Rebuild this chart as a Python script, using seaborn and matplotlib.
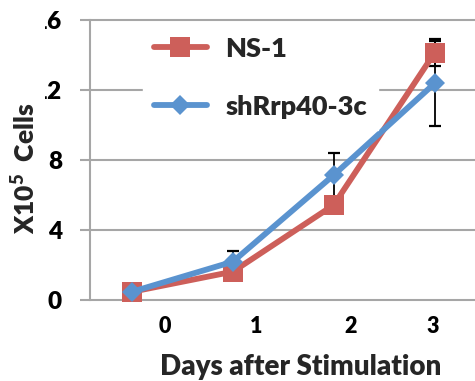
import matplotlib
matplotlib.use("Agg")
import matplotlib.pyplot as plt
from matplotlib.patches import Rectangle
import seaborn as sns
import numpy as np

# Growth after stimulation (cells x 10^5)
days = [0, 1, 2, 3]
ns1_cells = [0.47, 1.62, 5.43, 14.13]
ns1_err = [0.0, 0.0, 0.0, 0.77]
sh_cells = [0.47, 2.19, 7.14, 12.38]
sh_err = [0.0, 0.61, 1.27, 2.44]
series_names = ["NS-1", "shRrp40-3c"]
day_labels = ["0", "1", "2", "3"]
day_label_pos = [0.33, 1.23, 2.17, 2.98]
y_ticks = [0, 4, 8, 12, 16]

RED = "#CD5F5A"
BLUE = "#5A93CF"
GRID = "#A6A6A6"
WEIGHT = "heavy"

sns.set_theme(style="white")
plt.rcParams["font.family"] = ["Lato", "DejaVu Sans"]
plt.rcParams["font.weight"] = WEIGHT
plt.rcParams["mathtext.fontset"] = "custom"
plt.rcParams["mathtext.bf"] = "Lato:heavy"
plt.rcParams["mathtext.rm"] = "Lato:heavy"

W, H = 475, 381
fig = plt.figure(figsize=(W / 100, H / 100), dpi=100)

def px_x(v):
    return v / W

def px_y(v):
    return 1 - v / H

# axes frame in pixel terms: left 90, right 475, top 16.5, bottom 305.25
ax = fig.add_axes([px_x(90), px_y(305.25), px_x(475 - 90), (305.25 - 16.5) / H])
ax.set_ylim(-0.3, 16.2)
ax.set_xlim(-0.416, 3.40)

ax.errorbar(days, ns1_cells, yerr=ns1_err, fmt="none", ecolor="black",
            elinewidth=1.3, capsize=4.3, capthick=1.6, zorder=2)
ax.errorbar(days, sh_cells, yerr=sh_err, fmt="none", ecolor="black",
            elinewidth=1.3, capsize=4.3, capthick=1.6, zorder=2)

sns.lineplot(x=days, y=ns1_cells, ax=ax, color=RED, linewidth=4.2,
             marker="s", markersize=14.5, markeredgewidth=0,
             label=series_names[0], zorder=3, clip_on=False)
sns.lineplot(x=days, y=sh_cells, ax=ax, color=BLUE, linewidth=4.2,
             marker="D", markersize=10.6, markeredgewidth=0,
             label=series_names[1], zorder=4, clip_on=False)

# gridlines and axis styling
ax.set_yticks(y_ticks)
ax.set_yticklabels([str(t) for t in y_ticks], fontsize=17.5, fontweight=WEIGHT)
ax.yaxis.grid(True, color=GRID, linewidth=1.5)
ax.xaxis.grid(False)
ax.tick_params(axis="y", length=7.2, width=1.5, color=GRID, pad=13, left=True,
               labelcolor="black")
ax.set_xticks(day_label_pos)
ax.set_xticklabels(day_labels, fontsize=15.5, fontweight=WEIGHT)
ax.tick_params(axis="x", length=0, pad=8, labelcolor="black")
for side in ["top", "right", "bottom"]:
    ax.spines[side].set_visible(False)
ax.spines["left"].set_color(GRID)
ax.spines["left"].set_linewidth(1.5)
ax.spines["left"].set_bounds(0, 16)

ax.set_xlabel("Days after Stimulation", fontsize=20, fontweight=WEIGHT)
ax.xaxis.set_label_coords((301 - 90) / 385, -0.168)
ax.set_ylabel("")

leg = ax.legend(loc="upper left", bbox_to_anchor=(px_x(143), px_y(26)),
                bbox_transform=fig.transFigure, frameon=True, fancybox=False,
                framealpha=1, edgecolor="white", facecolor="white",
                prop={"size": 19.5, "weight": WEIGHT}, handlelength=1.95,
                handletextpad=0.7, labelspacing=1.25, borderpad=0.4,
                borderaxespad=0)
leg.set_zorder(6)

# blank strip at the upper left edge
fig.patches.append(Rectangle((0, px_y(101)), px_x(45), 101 / H,
                             transform=fig.transFigure, facecolor="white",
                             edgecolor="none", zorder=2))

fig.text(px_x(25), px_y(168), r"X10$^{\mathbf{5}}$  Cells", rotation=90,
         ha="center", va="center", fontsize=19, fontweight=WEIGHT, zorder=5)

fig.savefig("out.png", dpi=100)
